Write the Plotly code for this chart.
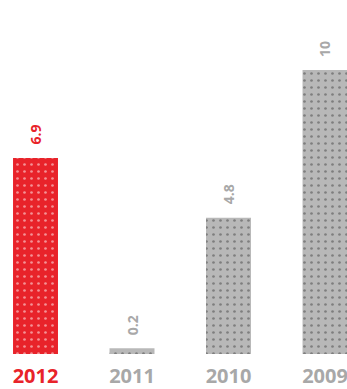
import plotly.graph_objects as go

years = ["2012", "2011", "2010", "2009"]
values = [6.9, 0.2, 4.8, 10]
value_labels = ["6.9", "0.2", "4.8", "10"]

RED = "#e8232a"
GRAY = "#b8b8b8"
GRAY_TXT = "#a8a8a8"
bar_colors = [RED, GRAY, GRAY, GRAY]
text_colors = [RED, GRAY_TXT, GRAY_TXT, GRAY_TXT]

fig = go.Figure()
fig.add_trace(go.Bar(
    x=list(range(len(years))), y=values, width=0.466,
    marker=dict(color=bar_colors, line=dict(width=0),
                pattern=dict(shape=".", fgcolor="rgba(80,80,80,0.3)", size=7, solidity=0.12)),
    hoverinfo="skip",
))

for i, (v, lab, c) in enumerate(zip(values, value_labels, text_colors)):
    fig.add_annotation(x=i, y=v, xref="x", yref="y", text=f"<b>{lab}</b>", textangle=-90,
                       showarrow=False, yanchor="bottom", yshift=11,
                       font=dict(family="Open Sans", size=14, color=c))

fig.update_layout(
    width=347, height=389, margin=dict(l=0, r=0, t=0, b=35),
    paper_bgcolor="white", plot_bgcolor="white", showlegend=False,
    xaxis=dict(range=[-0.368, 3.228], showgrid=False, zeroline=False,
               showline=False, tickmode="array", tickvals=list(range(len(years))),
               ticktext=[f"<span style='color:{c}'><b>{y}</b></span>" for y, c in zip(years, text_colors)],
               tickfont=dict(family="Open Sans", size=20, color=GRAY_TXT), ticks="",
               ticklabelstandoff=8, ticklabeloverflow="allow"),
    yaxis=dict(range=[0, 12.46], visible=False),
)

fig.write_html("out.html")
